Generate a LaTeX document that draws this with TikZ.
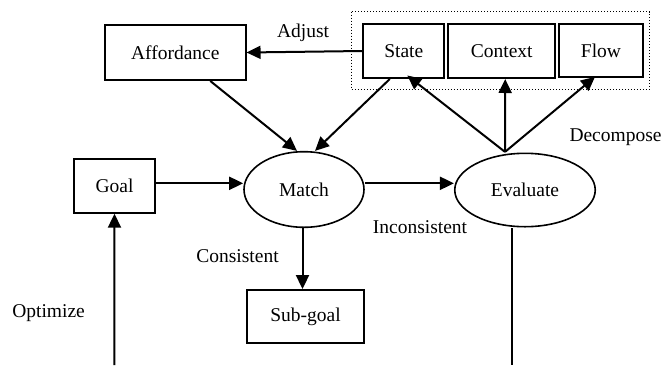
\documentclass[tikz,border=0pt]{standalone}
\usepackage{fontspec}
\setmainfont{Liberation Serif}
\usetikzlibrary{arrows.meta,shapes.geometric,calc}
\tikzset{
  box/.style={draw, line width=2pt, rectangle, inner sep=0pt, font=\fontsize{19.5}{22}\selectfont},
  oval/.style={draw, line width=1.6pt, ellipse, inner sep=0pt, font=\fontsize{19.5}{22}\selectfont},
  lbl/.style={inner sep=0pt, font=\fontsize{19.5}{22}\selectfont},
  arr/.style={line width=2pt, -{Triangle[length=14pt,width=13pt]}},
  plain/.style={line width=1.5pt}
}
\begin{document}
\begin{tikzpicture}[x=1pt,y=-1pt]
\useasboundingbox (0,0) rectangle (663,365);
% group frame
\draw[dotted, line width=1pt] (351.5,11.7) rectangle (649.5,89.3);
% boxes
\node[box, minimum width=140.5pt, minimum height=55pt] (aff) at (175.3,52.5) {Affordance};
\node[box, minimum width=81pt, minimum height=54pt] (state) at (403.8,51) {State};
\node[box, minimum width=106.7pt, minimum height=54pt] (ctx) at (501.7,51) {Context};
\node[box, minimum width=83.4pt, minimum height=53.3pt] (flow) at (601,50.7) {Flow};
\node[box, minimum width=81pt, minimum height=53.4pt] (goal) at (114.5,186) {Goal};
\node[box, minimum width=116.5pt, minimum height=53.3pt] (sub) at (305.5,316.7) {Sub-goal};
\node[oval, minimum width=120pt, minimum height=75.6pt] (match) at (304,189.5) {Match};
\node[oval, minimum width=140.5pt, minimum height=73.4pt] (eval) at (525,190) {Evaluate};
% labels
\node[lbl] (adjust) at (303,33.3) {Adjust};
\node[lbl, anchor=west] (decomp) at (569.3,136.7) {Decompose};
\node[lbl, anchor=west] (incons) at (372.7,226.7) {Inconsistent};
\node[lbl] (cons) at (237.5,256) {Consistent};
\node[lbl] (optim) at (48.6,312.7) {Optimize};
% free ends
\coordinate (optbot) at (114.3,365);
\coordinate (evalbot) at (512,365);
% connectors
\draw[arr] (state.west) -- (aff.east);
\draw[arr] ([xshift=35pt]aff.south) -- ([xshift=-7pt]match.north);
\draw[arr] ([xshift=-14pt]state.south) -- ([xshift=11pt]match.north);
\draw[arr] (goal.east |- 0,183.3) -- (match.west |- 0,183.3);
\draw[arr] (match.east |- 0,183.3) -- (eval.west |- 0,183.3);
\draw[arr] (match.south -| 302.5,0) -- (sub.north -| 302.5,0);
\draw[arr] ([xshift=-20pt,yshift=0.6pt]eval.north) -- ([xshift=3.5pt,yshift=3.5pt]state.south);
\draw[arr] ([xshift=-20pt,yshift=0.6pt]eval.north) -- ([xshift=3.5pt]ctx.south);
\draw[arr] ([xshift=-20pt,yshift=0.6pt]eval.north) -- ([xshift=-6pt,yshift=1.5pt]flow.south);
\draw[arr] (optbot) -- (goal.south);
\draw[plain] ([xshift=-13pt,yshift=-0.6pt]eval.south) -- (evalbot);
\end{tikzpicture}
\end{document}
